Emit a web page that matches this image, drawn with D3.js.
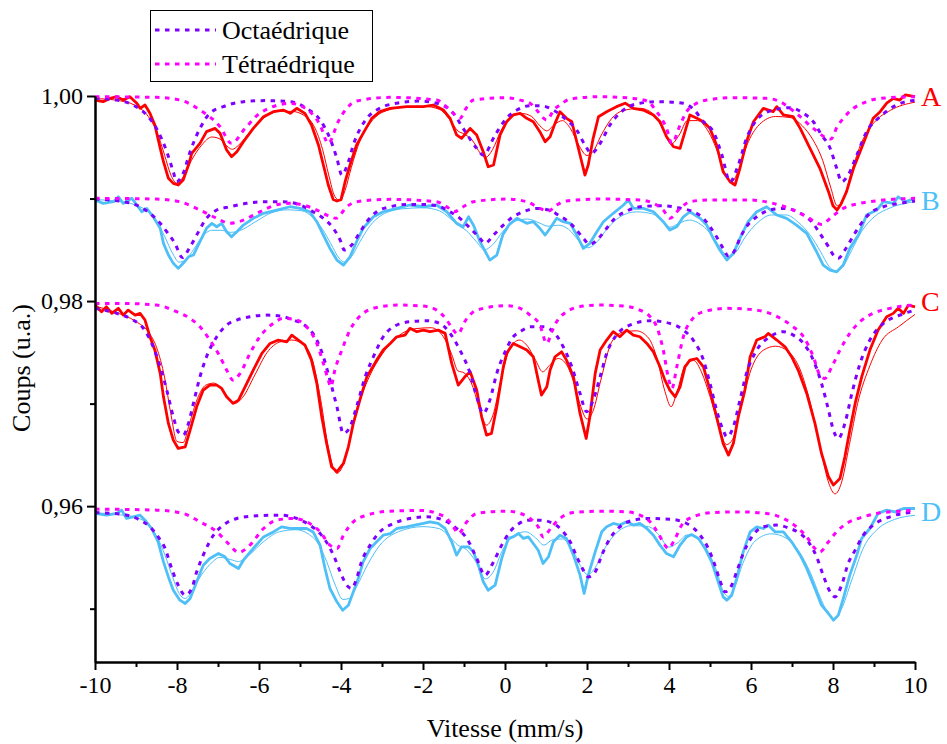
<!DOCTYPE html>
<html><head><meta charset="utf-8">
<script src="https://cdn.jsdelivr.net/npm/d3@7"></script>
<style>html,body{margin:0;padding:0;background:#fff;}svg{display:block;}</style>
</head><body>
<svg id="chart" width="947" height="744"></svg>
<script>
// ---------- data (velocity mm/s, relative counts) ----------
const xTicksMajor = [-10,-8,-6,-4,-2,0,2,4,6,8,10];
const xTicksMinor = [-9,-7,-5,-3,-1,1,3,5,7,9];
const yTicksMajor = [0.96,0.98,1.00];
const yTicksMinor = [0.95,0.97,0.99];
const spectrumLabels = ["A","B","C","D"];
const legendLabels = ["Octaédrique","Tétraédrique"];

const tetraA = [[-10,0.99993],[-8.5,0.99987],[-7.93,0.99961],[-7.44,0.99863],[-6.95,0.9970],[-6.67,0.99538],[-6.34,0.99684],[-5.98,0.99831],[-5.24,0.99928],[-4.76,0.99847],[-4.51,0.99717],[-4.31,0.99538],[-4.07,0.99749],[-3.86,0.9988],[-3.62,0.99951],[-2.8,0.99987],[-1.67,0.99961],[-1.34,0.99863],[-1.1,0.99782],[-0.95,0.9988],[-0.77,0.99961],[0.04,0.99983],[0.37,0.9996],[0.61,0.9993],[0.77,0.99863],[1.02,0.99766],[1.2,0.9987],[1.34,0.99912],[1.59,0.9997],[2.32,0.99993],[3.12,0.99977],[3.46,0.99951],[3.70,0.99847],[3.94,0.99684],[4.07,0.99538],[4.27,0.99717],[4.43,0.99847],[4.68,0.9993],[4.92,0.9996],[5.57,0.99983],[6.38,0.99977],[6.71,0.99945],[6.95,0.9988],[7.2,0.99798],[7.52,0.99684],[7.95,0.9958],[8.1,0.9970],[8.25,0.99782],[8.5,0.9988],[8.82,0.99945],[9.15,0.99977],[10,0.99993]];
const octaA = [[-10,0.99977],[-9.47,0.9996],[-9.07,0.99912],[-8.74,0.99815],[-8.5,0.99684],[-8.25,0.99457],[-8.09,0.99261],[-8.01,0.99164],[-7.85,0.99246],[-7.68,0.99457],[-7.44,0.99684],[-7.2,0.99831],[-6.87,0.99896],[-6.38,0.99945],[-5.81,0.99955],[-5.24,0.99945],[-4.84,0.9988],[-4.51,0.99766],[-4.27,0.99587],[-4.1,0.99392],[-3.98,0.99229],[-3.82,0.99359],[-3.7,0.99522],[-3.37,0.99782],[-3.13,0.99863],[-2.64,0.9993],[-2.07,0.99951],[-1.67,0.9993],[-1.26,0.99831],[-1.02,0.99684],[-0.69,0.9949],[-0.53,0.99424],[-0.24,0.9962],[0.04,0.99785],[0.29,0.99863],[0.61,0.99906],[0.85,0.99906],[1.18,0.99863],[1.5,0.99766],[1.75,0.99668],[1.95,0.99522],[2.11,0.99441],[2.32,0.99538],[2.56,0.99717],[2.89,0.99863],[3.29,0.9993],[3.78,0.99945],[4.35,0.9993],[4.6,0.9987],[4.84,0.99749],[5.08,0.99652],[5.29,0.99424],[5.49,0.99164],[5.69,0.99327],[5.89,0.99587],[6.14,0.99766],[6.54,0.99863],[6.95,0.99886],[7.28,0.99831],[7.52,0.99749],[7.72,0.9962],[7.93,0.9949],[8.09,0.99295],[8.21,0.99164],[8.37,0.99229],[8.58,0.99424],[8.82,0.99652],[9.15,0.99798],[9.55,0.99912],[10,0.9996]];
const dataA = [[-10,0.9996],[-9.8,0.99945],[-9.63,0.99977],[-9.47,0.99993],[-9.31,0.9996],[-9.15,0.99993],[-8.98,0.9993],[-8.9,0.9988],[-8.78,0.99912],[-8.66,0.99831],[-8.54,0.99717],[-8.41,0.9949],[-8.33,0.99359],[-8.21,0.99197],[-8.09,0.99148],[-7.97,0.99132],[-7.85,0.9918],[-7.72,0.99327],[-7.64,0.99441],[-7.44,0.99538],[-7.28,0.99652],[-7.07,0.99684],[-6.95,0.99636],[-6.79,0.99473],[-6.67,0.99408],[-6.54,0.99457],[-6.38,0.99554],[-6.14,0.99684],[-5.89,0.99798],[-5.65,0.99847],[-5.41,0.99863],[-5.24,0.99831],[-5.08,0.9988],[-4.88,0.99831],[-4.72,0.99717],[-4.55,0.99522],[-4.43,0.99327],[-4.31,0.99132],[-4.19,0.9899],[-4.1,0.98976],[-4.0,0.9899],[-3.9,0.99164],[-3.78,0.99327],[-3.62,0.99522],[-3.46,0.99636],[-3.25,0.99782],[-3.05,0.99847],[-2.8,0.9988],[-2.4,0.99896],[-1.99,0.99896],[-1.75,0.99912],[-1.5,0.99863],[-1.34,0.99782],[-1.18,0.9962],[-1.06,0.99587],[-0.85,0.99684],[-0.69,0.9962],[-0.53,0.99457],[-0.41,0.9931],[-0.28,0.99327],[-0.12,0.9962],[0.04,0.99749],[0.2,0.99815],[0.37,0.99831],[0.53,0.99782],[0.69,0.99749],[0.85,0.99652],[0.98,0.99554],[1.1,0.99603],[1.22,0.99733],[1.34,0.99847],[1.5,0.99782],[1.63,0.99749],[1.75,0.99554],[1.87,0.99359],[1.95,0.99229],[2.03,0.99327],[2.15,0.99587],[2.28,0.99798],[2.48,0.99847],[2.72,0.99896],[2.93,0.9993],[3.13,0.9988],[3.37,0.99863],[3.62,0.99815],[3.78,0.99749],[3.94,0.99603],[4.11,0.99505],[4.27,0.9949],[4.39,0.99652],[4.51,0.99815],[4.68,0.99782],[4.84,0.99749],[5.0,0.99684],[5.16,0.99522],[5.32,0.99261],[5.49,0.99164],[5.61,0.99132],[5.73,0.99295],[5.89,0.99554],[6.06,0.99749],[6.3,0.9988],[6.54,0.99847],[6.63,0.99896],[6.79,0.99815],[7.03,0.99798],[7.2,0.99684],[7.44,0.9949],[7.68,0.99295],[7.89,0.99067],[8.0,0.9893],[8.1,0.98888],[8.2,0.9895],[8.33,0.99067],[8.5,0.99295],[8.66,0.99457],[8.82,0.9962],[8.98,0.99782],[9.15,0.99847],[9.31,0.9993],[9.47,0.99977],[9.63,0.9996],[9.76,1.0001],[10,0.99993]];
const fitA = [[-10,0.99975],[-9.5,0.9996],[-9.0,0.99905],[-8.7,0.998],[-8.5,0.9966],[-8.3,0.9942],[-8.15,0.9923],[-8.0,0.9915],[-7.85,0.9921],[-7.65,0.9937],[-7.4,0.9952],[-7.15,0.9960],[-6.95,0.9958],[-6.75,0.9950],[-6.65,0.9948],[-6.5,0.9952],[-6.2,0.9966],[-5.9,0.9978],[-5.5,0.9985],[-5.2,0.9985],[-4.9,0.9981],[-4.65,0.9970],[-4.45,0.9948],[-4.3,0.9923],[-4.15,0.9902],[-4.02,0.9898],[-3.9,0.9908],[-3.75,0.9930],[-3.55,0.9955],[-3.3,0.9973],[-3.0,0.9984],[-2.5,0.9989],[-2.0,0.9990],[-1.6,0.9987],[-1.35,0.9977],[-1.15,0.9966],[-1.0,0.9963],[-0.8,0.9957],[-0.6,0.9944],[-0.48,0.9940],[-0.3,0.9948],[-0.1,0.9966],[0.15,0.9979],[0.4,0.9983],[0.65,0.9980],[0.85,0.9971],[1.02,0.9966],[1.2,0.9972],[1.4,0.9976],[1.6,0.9968],[1.8,0.9952],[2.0,0.9942],[2.15,0.9946],[2.35,0.9962],[2.6,0.9978],[2.9,0.9986],[3.3,0.9988],[3.6,0.9983],[3.85,0.9968],[4.05,0.9953],[4.25,0.9962],[4.45,0.9976],[4.7,0.9976],[4.95,0.9966],[5.2,0.9944],[5.4,0.9921],[5.52,0.9916],[5.7,0.9928],[5.9,0.9952],[6.2,0.9972],[6.6,0.9980],[6.95,0.9979],[7.25,0.9971],[7.5,0.9958],[7.75,0.9937],[7.95,0.9910],[8.1,0.9893],[8.25,0.9899],[8.45,0.9926],[8.7,0.9955],[9.0,0.9974],[9.4,0.9986],[10,0.9994]];

const tetraB = [[-10,0.99002],[-8.5,0.98995],[-7.93,0.98969],[-7.44,0.98888],[-7.03,0.98807],[-6.71,0.98758],[-6.38,0.9879],[-5.98,0.98871],[-5.5,0.98945],[-5.24,0.98953],[-4.92,0.98937],[-4.59,0.98888],[-4.35,0.98839],[-4.12,0.98807],[-3.86,0.9892],[-3.62,0.98969],[-2.8,0.98992],[-1.67,0.98969],[-1.42,0.9892],[-1.24,0.98871],[-1.02,0.9892],[-0.77,0.98969],[0.04,0.98995],[0.53,0.98969],[0.85,0.98904],[1.06,0.98878],[1.26,0.98937],[1.5,0.98976],[2.32,0.98995],[3.29,0.98985],[3.62,0.98953],[3.86,0.98888],[4.02,0.98807],[4.27,0.98904],[4.51,0.98969],[4.92,0.98985],[5.98,0.98985],[6.54,0.98953],[7.03,0.98888],[7.36,0.98822],[7.72,0.98748],[7.97,0.98822],[8.25,0.98904],[8.66,0.98953],[9.23,0.98985],[10,0.99002]];
const octaB = [[-10,0.98995],[-9.31,0.98969],[-8.9,0.9892],[-8.66,0.98856],[-8.41,0.98758],[-8.25,0.98676],[-8.05,0.98563],[-7.87,0.98425],[-7.68,0.9853],[-7.52,0.98644],[-7.28,0.98807],[-7.03,0.98888],[-6.71,0.9892],[-6.3,0.98953],[-5.89,0.98969],[-5.41,0.98969],[-5.0,0.98937],[-4.68,0.98871],[-4.43,0.98807],[-4.19,0.9871],[-4.02,0.98595],[-3.92,0.98498],[-3.74,0.98546],[-3.58,0.98644],[-3.37,0.98774],[-3.13,0.98871],[-2.8,0.9892],[-2.4,0.98943],[-1.99,0.98943],[-1.59,0.9892],[-1.34,0.98871],[-1.1,0.98807],[-0.85,0.9871],[-0.61,0.98612],[-0.49,0.98563],[-0.28,0.98644],[-0.04,0.98741],[0.2,0.98822],[0.45,0.98871],[0.77,0.98904],[1.1,0.98885],[1.3,0.98839],[1.5,0.9879],[1.71,0.9871],[1.91,0.98612],[2.07,0.98553],[2.28,0.98612],[2.48,0.9871],[2.68,0.98807],[2.97,0.98878],[3.29,0.9892],[3.78,0.9893],[4.31,0.98904],[4.59,0.98871],[4.84,0.98807],[5.0,0.98725],[5.16,0.98627],[5.32,0.98514],[5.45,0.98439],[5.61,0.98498],[5.73,0.98612],[5.89,0.98725],[6.14,0.98822],[6.46,0.98888],[6.79,0.98904],[7.03,0.98888],[7.28,0.98839],[7.48,0.98774],[7.68,0.9866],[7.89,0.9853],[8.01,0.98449],[8.13,0.98417],[8.29,0.98498],[8.46,0.98612],[8.66,0.98741],[8.9,0.98856],[9.23,0.9892],[9.63,0.98953],[10,0.98976]];
const dataB = [[-10,0.98985],[-9.8,0.98953],[-9.55,0.98969],[-9.43,0.99017],[-9.31,0.98953],[-9.1,0.99002],[-8.98,0.98937],[-8.86,0.98871],[-8.74,0.98904],[-8.58,0.98822],[-8.41,0.9871],[-8.33,0.98563],[-8.21,0.98449],[-8.09,0.98368],[-7.97,0.98319],[-7.85,0.98368],[-7.72,0.98432],[-7.6,0.98449],[-7.44,0.98579],[-7.28,0.9871],[-7.15,0.98758],[-7.03,0.98725],[-6.91,0.98758],[-6.79,0.98676],[-6.67,0.98627],[-6.54,0.98676],[-6.38,0.98741],[-6.14,0.98807],[-5.89,0.98856],[-5.57,0.98888],[-5.24,0.9892],[-5.0,0.98904],[-4.76,0.98871],[-4.59,0.98774],[-4.43,0.98644],[-4.27,0.98514],[-4.1,0.984],[-3.94,0.98351],[-3.78,0.98432],[-3.62,0.98579],[-3.46,0.9871],[-3.21,0.98822],[-2.97,0.98871],[-2.64,0.98904],[-2.32,0.98937],[-1.99,0.9892],[-1.67,0.98937],[-1.42,0.98871],[-1.18,0.98758],[-1.02,0.98725],[-0.89,0.98822],[-0.77,0.98741],[-0.61,0.98579],[-0.37,0.984],[-0.2,0.98449],[-0.05,0.9865],[0.1,0.98745],[0.29,0.98807],[0.53,0.98758],[0.69,0.98774],[0.85,0.9871],[0.98,0.98644],[1.1,0.9871],[1.26,0.98807],[1.42,0.98774],[1.59,0.98758],[1.75,0.98644],[1.91,0.98514],[2.07,0.98563],[2.24,0.98676],[2.4,0.98774],[2.64,0.98856],[2.89,0.98937],[3.01,0.98985],[3.13,0.98904],[3.37,0.98904],[3.62,0.98871],[3.86,0.98774],[4.02,0.98693],[4.19,0.98725],[4.35,0.98822],[4.51,0.98871],[4.76,0.98807],[4.92,0.98741],[5.08,0.98612],[5.24,0.98498],[5.41,0.984],[5.57,0.98465],[5.73,0.98612],[5.93,0.98774],[6.14,0.98871],[6.38,0.9892],[6.63,0.98839],[6.87,0.98807],[7.11,0.98741],[7.36,0.9866],[7.6,0.98481],[7.76,0.98351],[7.93,0.98302],[8.09,0.98285],[8.25,0.98351],[8.41,0.98514],[8.62,0.98644],[8.82,0.98839],[9.07,0.98888],[9.23,0.98969],[9.47,0.98953],[9.59,0.99017],[9.76,0.98969],[10,0.99002]];
const fitB = [[-10,0.9899],[-9.5,0.98975],[-9.0,0.98935],[-8.7,0.9887],[-8.5,0.9878],[-8.3,0.9863],[-8.1,0.9846],[-7.95,0.9838],[-7.8,0.9840],[-7.6,0.9850],[-7.4,0.9862],[-7.15,0.9869],[-6.9,0.9869],[-6.7,0.9867],[-6.45,0.9869],[-6.1,0.9877],[-5.7,0.9886],[-5.3,0.9889],[-4.95,0.9888],[-4.7,0.9882],[-4.45,0.9870],[-4.25,0.9856],[-4.05,0.9842],[-3.92,0.9838],[-3.75,0.9843],[-3.55,0.9857],[-3.3,0.9873],[-3.0,0.9884],[-2.5,0.9890],[-2.0,0.9891],[-1.6,0.9888],[-1.35,0.9881],[-1.15,0.9874],[-0.95,0.9869],[-0.7,0.9858],[-0.5,0.9850],[-0.3,0.9855],[-0.05,0.9868],[0.25,0.9878],[0.55,0.9880],[0.85,0.9876],[1.05,0.9873],[1.3,0.9874],[1.55,0.9870],[1.8,0.9859],[2.02,0.9852],[2.25,0.9858],[2.5,0.9871],[2.8,0.9882],[3.2,0.9887],[3.6,0.9885],[3.85,0.9878],[4.02,0.9872],[4.25,0.9876],[4.5,0.9879],[4.8,0.9874],[5.05,0.9864],[5.3,0.9849],[5.45,0.9843],[5.62,0.9847],[5.85,0.9862],[6.15,0.9876],[6.5,0.9884],[6.85,0.9884],[7.15,0.9877],[7.45,0.9864],[7.7,0.9848],[7.9,0.9834],[8.08,0.9829],[8.25,0.9834],[8.45,0.9849],[8.7,0.9868],[9.0,0.9882],[9.4,0.9891],[10,0.9897]];

const tetraC = [[-10,0.97977],[-9.31,0.97977],[-8.5,0.97961],[-8.01,0.97896],[-7.68,0.97831],[-7.44,0.97749],[-7.2,0.9762],[-6.95,0.97457],[-6.79,0.97327],[-6.63,0.97229],[-6.46,0.97295],[-6.22,0.9749],[-5.98,0.97652],[-5.65,0.97782],[-5.41,0.97831],[-5.08,0.97815],[-4.84,0.97749],[-4.59,0.97587],[-4.43,0.97392],[-4.31,0.97229],[-4.25,0.97164],[-4.15,0.97327],[-3.98,0.97522],[-3.78,0.97717],[-3.46,0.9788],[-3.05,0.97944],[-2.56,0.97961],[-1.99,0.97951],[-1.67,0.97912],[-1.42,0.97815],[-1.26,0.97717],[-1.15,0.97678],[-0.98,0.978],[-0.69,0.97912],[0.04,0.97955],[0.37,0.97929],[0.61,0.97863],[0.85,0.97766],[1.02,0.97587],[1.14,0.97701],[1.26,0.97799],[1.5,0.97896],[1.91,0.97951],[2.32,0.97961],[2.89,0.97951],[3.29,0.97912],[3.54,0.97847],[3.7,0.97749],[3.86,0.97522],[3.98,0.97261],[4.07,0.97149],[4.19,0.97359],[4.35,0.97652],[4.55,0.97815],[4.84,0.97896],[5.41,0.97929],[5.98,0.97919],[6.46,0.9788],[6.79,0.97815],[7.03,0.97749],[7.28,0.97652],[7.52,0.97457],[7.68,0.97278],[7.8,0.97246],[7.97,0.97359],[8.17,0.97522],[8.41,0.97685],[8.66,0.97799],[8.98,0.9788],[9.39,0.97929],[10,0.97961]];
const octaC = [[-10,0.97929],[-9.47,0.9788],[-9.07,0.97815],[-8.82,0.97734],[-8.58,0.97554],[-8.41,0.97359],[-8.25,0.97132],[-8.09,0.96871],[-7.97,0.96725],[-7.85,0.96693],[-7.72,0.96807],[-7.6,0.97002],[-7.44,0.97261],[-7.28,0.97457],[-7.03,0.97652],[-6.79,0.97766],[-6.54,0.97815],[-6.22,0.97847],[-5.81,0.97863],[-5.49,0.97854],[-5.16,0.97815],[-4.84,0.97749],[-4.59,0.9762],[-4.43,0.97457],[-4.27,0.97229],[-4.1,0.96969],[-3.94,0.96709],[-3.78,0.96774],[-3.62,0.96969],[-3.41,0.97261],[-3.21,0.97457],[-2.97,0.97652],[-2.72,0.97749],[-2.32,0.97799],[-1.91,0.97808],[-1.59,0.97782],[-1.34,0.97685],[-1.1,0.97522],[-0.85,0.97295],[-0.69,0.97066],[-0.53,0.96904],[-0.37,0.97034],[-0.2,0.97295],[0.02,0.9752],[0.2,0.97652],[0.37,0.97701],[0.61,0.97749],[0.93,0.97749],[1.18,0.97701],[1.42,0.97554],[1.63,0.97359],[1.83,0.97099],[1.99,0.9692],[2.15,0.97034],[2.32,0.97261],[2.48,0.9749],[2.72,0.97668],[3.05,0.97766],[3.54,0.97808],[4.02,0.97782],[4.35,0.97717],[4.59,0.9762],[4.84,0.97424],[5.0,0.97197],[5.16,0.96937],[5.32,0.96741],[5.41,0.96676],[5.57,0.96774],[5.73,0.97034],[5.89,0.97295],[6.14,0.97522],[6.46,0.97652],[6.79,0.97701],[7.03,0.97668],[7.28,0.97587],[7.52,0.97424],[7.72,0.97197],[7.89,0.96937],[8.01,0.96741],[8.13,0.9666],[8.29,0.96807],[8.46,0.97099],[8.66,0.97392],[8.9,0.9762],[9.23,0.97782],[9.63,0.97863],[10,0.97912]];
const dataC = [[-10,0.97961],[-9.84,0.97896],[-9.72,0.97944],[-9.59,0.9788],[-9.43,0.97929],[-9.31,0.97863],[-9.19,0.97912],[-9.02,0.97863],[-8.9,0.9788],[-8.78,0.97815],[-8.66,0.97652],[-8.54,0.97522],[-8.41,0.97295],[-8.33,0.97066],[-8.21,0.96807],[-8.09,0.96644],[-7.97,0.96563],[-7.8,0.96579],[-7.68,0.96741],[-7.52,0.96969],[-7.36,0.97132],[-7.2,0.9718],[-7.03,0.9718],[-6.91,0.97148],[-6.79,0.97066],[-6.63,0.97002],[-6.5,0.97034],[-6.34,0.97164],[-6.14,0.97327],[-5.93,0.9749],[-5.73,0.97587],[-5.53,0.9762],[-5.32,0.97603],[-5.2,0.97668],[-5.04,0.9762],[-4.88,0.97571],[-4.72,0.97424],[-4.59,0.97197],[-4.47,0.96871],[-4.35,0.96612],[-4.23,0.96384],[-4.1,0.96335],[-3.94,0.96416],[-3.82,0.96579],[-3.7,0.96807],[-3.54,0.97034],[-3.37,0.97261],[-3.13,0.97424],[-2.97,0.97522],[-2.8,0.97587],[-2.64,0.97652],[-2.44,0.97668],[-2.32,0.97734],[-2.15,0.97701],[-1.99,0.97717],[-1.83,0.97701],[-1.63,0.97717],[-1.46,0.97685],[-1.3,0.97392],[-1.14,0.9718],[-0.98,0.97261],[-0.85,0.9731],[-0.69,0.97132],[-0.57,0.96871],[-0.45,0.96693],[-0.33,0.96709],[-0.2,0.96969],[-0.04,0.97359],[0.04,0.9749],[0.2,0.97587],[0.37,0.97554],[0.53,0.97522],[0.69,0.97457],[0.81,0.97229],[0.89,0.97083],[1.02,0.97164],[1.1,0.97327],[1.22,0.97457],[1.38,0.97505],[1.5,0.97424],[1.67,0.97261],[1.83,0.96904],[1.98,0.9666],[2.07,0.96871],[2.2,0.97295],[2.32,0.97522],[2.48,0.9762],[2.64,0.97701],[2.8,0.97652],[2.97,0.97717],[3.13,0.97668],[3.29,0.97652],[3.46,0.97587],[3.62,0.97505],[3.78,0.97359],[3.9,0.97229],[4.02,0.97132],[4.15,0.97066],[4.27,0.97164],[4.39,0.97359],[4.51,0.97424],[4.68,0.9744],[4.84,0.97359],[5.0,0.97132],[5.16,0.96871],[5.32,0.96612],[5.45,0.96498],[5.57,0.96612],[5.69,0.96871],[5.85,0.97132],[5.98,0.97457],[6.14,0.9762],[6.34,0.97652],[6.42,0.97685],[6.63,0.9762],[6.83,0.97554],[6.99,0.97457],[7.15,0.97327],[7.36,0.97099],[7.56,0.96807],[7.72,0.96514],[7.89,0.96286],[8.01,0.96205],[8.17,0.9627],[8.29,0.96481],[8.41,0.96741],[8.54,0.97002],[8.7,0.97261],[8.9,0.97522],[9.1,0.97717],[9.31,0.97847],[9.47,0.9788],[9.59,0.97929],[9.72,0.9788],[9.84,0.97961],[10,0.97944]];
const fitC = [[-10,0.97951],[-9.5,0.9789],[-9.0,0.978],[-8.7,0.977],[-8.5,0.9755],[-8.3,0.9725],[-8.15,0.969],[-8.0,0.9663],[-7.85,0.9662],[-7.7,0.968],[-7.5,0.9705],[-7.3,0.9718],[-7.1,0.972],[-6.9,0.9714],[-6.6,0.970],[-6.4,0.9706],[-6.1,0.9728],[-5.8,0.975],[-5.5,0.976],[-5.2,0.9762],[-4.9,0.9757],[-4.7,0.9743],[-4.5,0.9705],[-4.3,0.9655],[-4.1,0.9632],[-3.95,0.964],[-3.8,0.9662],[-3.6,0.9695],[-3.3,0.9727],[-3.0,0.9748],[-2.6,0.9766],[-2.2,0.9773],[-1.8,0.9774],[-1.5,0.9765],[-1.3,0.9748],[-1.15,0.9732],[-1.0,0.973],[-0.8,0.9718],[-0.6,0.9692],[-0.45,0.9679],[-0.3,0.9688],[-0.1,0.9723],[0.1,0.9752],[0.35,0.9762],[0.55,0.9756],[0.75,0.9742],[0.92,0.9731],[1.1,0.9738],[1.3,0.9744],[1.5,0.9738],[1.7,0.9718],[1.85,0.9697],[2.0,0.9685],[2.15,0.9693],[2.35,0.9725],[2.6,0.976],[2.9,0.977],[3.2,0.9771],[3.5,0.9764],[3.7,0.9745],[3.9,0.9712],[4.05,0.9697],[4.2,0.9712],[4.4,0.9738],[4.6,0.9742],[4.8,0.973],[5.0,0.9707],[5.2,0.968],[5.4,0.966],[5.55,0.9665],[5.75,0.9695],[6.0,0.9733],[6.3,0.9752],[6.6,0.9756],[6.9,0.9751],[7.2,0.9733],[7.45,0.97],[7.7,0.9655],[7.9,0.9622],[8.05,0.9612],[8.2,0.9622],[8.4,0.966],[8.6,0.97],[8.9,0.9737],[9.2,0.9762],[9.6,0.9775],[10,0.9787]];

const tetraD = [[-10,0.95971],[-8.5,0.95961],[-7.85,0.95929],[-7.44,0.95847],[-7.03,0.9575],[-6.71,0.9562],[-6.5,0.95548],[-6.22,0.9562],[-5.89,0.95782],[-5.57,0.95863],[-5.16,0.9588],[-4.84,0.95847],[-4.51,0.9575],[-4.27,0.9562],[-4.1,0.95587],[-3.94,0.95717],[-3.7,0.95847],[-3.37,0.95912],[-2.8,0.95951],[-1.99,0.95958],[-1.67,0.95929],[-1.42,0.9588],[-1.26,0.95798],[-1.14,0.95733],[-0.93,0.95847],[-0.69,0.95929],[0.04,0.95951],[0.37,0.95929],[0.61,0.9588],[0.81,0.95798],[0.93,0.957],[1.14,0.95798],[1.34,0.9588],[1.67,0.95938],[2.32,0.95951],[2.97,0.95944],[3.29,0.95912],[3.54,0.95847],[3.74,0.95733],[3.9,0.9562],[3.98,0.95587],[4.15,0.95685],[4.31,0.95815],[4.59,0.95896],[5.08,0.95938],[5.73,0.95944],[6.38,0.95929],[6.79,0.9588],[7.11,0.95798],[7.36,0.957],[7.56,0.95587],[7.68,0.95554],[7.89,0.95652],[8.09,0.9575],[8.33,0.95831],[8.66,0.95886],[9.07,0.95929],[9.63,0.95951],[10,0.95961]];
const octaD = [[-10,0.95938],[-9.31,0.95919],[-8.9,0.95863],[-8.66,0.95798],[-8.46,0.957],[-8.29,0.95587],[-8.13,0.95392],[-7.97,0.95229],[-7.8,0.95132],[-7.64,0.95197],[-7.52,0.95359],[-7.36,0.95522],[-7.11,0.95717],[-6.87,0.95815],[-6.54,0.9588],[-6.06,0.95906],[-5.49,0.95912],[-5.08,0.9588],[-4.76,0.95815],[-4.51,0.95733],[-4.31,0.9562],[-4.15,0.9549],[-4.02,0.95359],[-3.86,0.95229],[-3.74,0.95197],[-3.62,0.95294],[-3.5,0.95457],[-3.29,0.9562],[-3.05,0.9575],[-2.72,0.95831],[-2.32,0.9588],[-1.91,0.95896],[-1.5,0.95863],[-1.18,0.95782],[-0.93,0.95685],[-0.69,0.9549],[-0.49,0.95327],[-0.28,0.95457],[-0.08,0.9562],[0.12,0.9575],[0.29,0.95815],[0.57,0.95863],[0.85,0.95863],[1.18,0.95831],[1.42,0.9575],[1.59,0.95652],[1.75,0.95506],[1.91,0.95376],[2.03,0.9531],[2.2,0.95359],[2.36,0.95522],[2.56,0.95685],[2.8,0.95798],[3.13,0.95863],[3.54,0.9588],[4.02,0.95873],[4.43,0.95831],[4.76,0.95717],[4.96,0.95587],[5.12,0.95424],[5.24,0.95278],[5.37,0.95164],[5.53,0.95229],[5.65,0.95359],[5.81,0.95538],[6.02,0.957],[6.3,0.95798],[6.63,0.95815],[6.95,0.95782],[7.2,0.95733],[7.4,0.95652],[7.6,0.95506],[7.76,0.95327],[7.93,0.95164],[8.05,0.95115],[8.21,0.95229],[8.37,0.95441],[8.54,0.95571],[8.74,0.95717],[8.98,0.95815],[9.39,0.95896],[10,0.95944]];
const dataD = [[-10,0.95929],[-9.72,0.95912],[-9.47,0.95929],[-9.35,0.95961],[-9.23,0.9588],[-9.07,0.95896],[-8.9,0.95912],[-8.78,0.95863],[-8.62,0.95782],[-8.46,0.95652],[-8.33,0.95457],[-8.21,0.9531],[-8.09,0.9518],[-7.93,0.95083],[-7.8,0.9505],[-7.68,0.95099],[-7.52,0.95262],[-7.36,0.95424],[-7.2,0.9549],[-6.99,0.95538],[-6.83,0.95506],[-6.71,0.95441],[-6.5,0.95392],[-6.38,0.95473],[-6.14,0.95587],[-5.89,0.957],[-5.65,0.95749],[-5.45,0.95798],[-5.24,0.95782],[-5.04,0.95782],[-4.84,0.95782],[-4.68,0.95749],[-4.51,0.9562],[-4.39,0.95392],[-4.27,0.95197],[-4.1,0.95067],[-3.96,0.94985],[-3.82,0.95034],[-3.7,0.95164],[-3.58,0.95294],[-3.46,0.95457],[-3.29,0.95587],[-3.13,0.95652],[-2.97,0.95717],[-2.8,0.95733],[-2.64,0.95782],[-2.4,0.95798],[-2.2,0.95815],[-1.99,0.95831],[-1.83,0.95847],[-1.63,0.95831],[-1.46,0.95782],[-1.3,0.95652],[-1.18,0.95522],[-1.06,0.95603],[-0.89,0.95603],[-0.77,0.95554],[-0.65,0.95424],[-0.53,0.95262],[-0.41,0.9518],[-0.24,0.95229],[-0.08,0.9549],[0.08,0.95685],[0.2,0.957],[0.33,0.95733],[0.45,0.95685],[0.57,0.957],[0.69,0.95636],[0.81,0.9557],[0.93,0.95441],[1.06,0.95506],[1.18,0.95652],[1.34,0.95717],[1.5,0.95685],[1.67,0.95522],[1.83,0.95327],[1.93,0.95148],[2.03,0.95327],[2.2,0.95554],[2.36,0.9575],[2.48,0.95798],[2.64,0.95831],[2.8,0.95815],[2.97,0.95847],[3.13,0.95815],[3.29,0.95831],[3.46,0.95782],[3.62,0.95717],[3.78,0.9562],[3.94,0.95538],[4.11,0.95506],[4.27,0.9562],[4.43,0.957],[4.55,0.95723],[4.72,0.95685],[4.88,0.95587],[5.04,0.95457],[5.2,0.95262],[5.32,0.95115],[5.41,0.95083],[5.53,0.95132],[5.65,0.95294],[5.81,0.95554],[5.98,0.9575],[6.14,0.95798],[6.3,0.95782],[6.42,0.95815],[6.59,0.95749],[6.79,0.95749],[6.99,0.95652],[7.2,0.95522],[7.36,0.95392],[7.56,0.95197],[7.72,0.95034],[7.89,0.94953],[8.01,0.94888],[8.13,0.94937],[8.25,0.95099],[8.41,0.95327],[8.58,0.95522],[8.7,0.95685],[8.9,0.95782],[9.1,0.95929],[9.31,0.95961],[9.51,0.95944],[9.72,0.95977],[10,0.95977]];
const fitD = [[-10,0.95935],[-9.5,0.9592],[-9.0,0.9589],[-8.7,0.9582],[-8.5,0.9571],[-8.3,0.9553],[-8.1,0.953],[-7.95,0.9515],[-7.8,0.951],[-7.65,0.9516],[-7.45,0.953],[-7.2,0.9543],[-6.95,0.955],[-6.7,0.9548],[-6.5,0.9546],[-6.25,0.9552],[-5.9,0.9565],[-5.5,0.9575],[-5.1,0.9577],[-4.8,0.9573],[-4.55,0.9563],[-4.35,0.9546],[-4.15,0.9524],[-3.95,0.9509],[-3.8,0.951],[-3.6,0.9523],[-3.35,0.9543],[-3.05,0.9562],[-2.6,0.9575],[-2.0,0.958],[-1.6,0.9578],[-1.35,0.957],[-1.15,0.9562],[-0.95,0.9558],[-0.7,0.9545],[-0.48,0.9529],[-0.3,0.9535],[-0.05,0.9558],[0.25,0.9572],[0.5,0.9575],[0.75,0.9569],[0.95,0.9562],[1.15,0.9567],[1.4,0.9568],[1.65,0.9557],[1.85,0.9541],[2.02,0.9533],[2.2,0.954],[2.45,0.956],[2.75,0.9575],[3.1,0.9581],[3.5,0.958],[3.75,0.9572],[4.0,0.956],[4.2,0.9564],[4.45,0.9572],[4.7,0.9568],[4.95,0.9556],[5.15,0.9538],[5.35,0.9515],[5.45,0.9512],[5.6,0.9521],[5.8,0.9544],[6.1,0.9566],[6.5,0.9573],[6.85,0.9569],[7.15,0.9557],[7.45,0.9535],[7.7,0.951],[7.9,0.9494],[8.03,0.949],[8.2,0.9499],[8.45,0.9527],[8.75,0.956],[9.1,0.9578],[9.5,0.9587],[10,0.9591]];

const labelLevels = [1.0, 0.98985, 0.98, 0.9595];

// ---------- drawing ----------
const RED = "#ff0000", BLUE = "#4fbff7", OCTA = "#8000ff", TETRA = "#ff00ff";
const FONT = "Liberation Serif";
const svg = d3.select("#chart");
const x = d3.scaleLinear().domain([-10, 10]).range([95, 915]);
const y = d3.scaleLinear().domain([0.9448, 1.0]).range([662, 96]);

const lineLin = d3.line().x(d => x(d[0])).y(d => y(d[1]));
const lineSmooth = d3.line().x(d => x(d[0])).y(d => y(d[1])).curve(d3.curveMonotoneX);

const spectra = [
  {data: dataA, fit: fitA, octa: octaA, tetra: tetraA, color: RED},
  {data: dataB, fit: fitB, octa: octaB, tetra: tetraB, color: BLUE},
  {data: dataC, fit: fitC, octa: octaC, tetra: tetraC, color: RED},
  {data: dataD, fit: fitD, octa: octaD, tetra: tetraD, color: BLUE}
];

const plot = svg.append("g");
spectra.forEach(s => {
  plot.append("path").attr("d", lineLin(s.data)).attr("fill", "none")
    .attr("stroke", s.color).attr("stroke-width", 2.8).attr("stroke-linejoin", "round");
  plot.append("path").attr("d", lineSmooth(s.fit)).attr("fill", "none")
    .attr("stroke", s.color).attr("stroke-width", 1);
});
spectra.forEach(s => {
  plot.append("path").attr("d", lineSmooth(s.octa)).attr("fill", "none")
    .attr("stroke", OCTA).attr("stroke-width", 3).attr("stroke-dasharray", "4.5,5.5");
  plot.append("path").attr("d", lineSmooth(s.tetra)).attr("fill", "none")
    .attr("stroke", TETRA).attr("stroke-width", 3).attr("stroke-dasharray", "4.5,5.5");
});

// spectrum letters
spectrumLabels.forEach((t, i) => {
  svg.append("text").attr("x", 921).attr("y", y(labelLevels[i]) + 10)
    .style("font-family", FONT).attr("font-size", 28).attr("fill", spectra[i].color).text(t);
});

// axes
const fmtY = v => d3.format(".2f")(v).replace(".", ",");
const fmtX = v => String(v);
function styleAxis(g) {
  g.selectAll("path.domain").attr("stroke", "#000").attr("stroke-width", 2);
  g.selectAll(".tick line").attr("stroke", "#000").attr("stroke-width", 2);
  g.selectAll(".tick text").attr("fill", "#000").style("font-family", FONT).attr("font-size", 24);
}
const xMinor = svg.append("g").attr("transform", "translate(0,662)")
  .call(d3.axisBottom(x).tickValues(xTicksMinor).tickSize(5).tickSizeOuter(0).tickFormat(""));
styleAxis(xMinor);
const xMajor = svg.append("g").attr("transform", "translate(0,662)")
  .call(d3.axisBottom(x).tickValues(xTicksMajor).tickSize(8).tickSizeOuter(0).tickPadding(6).tickFormat(fmtX));
styleAxis(xMajor);
const yMinor = svg.append("g").attr("transform", "translate(95,0)")
  .call(d3.axisLeft(y).tickValues(yTicksMinor).tickSize(5).tickSizeOuter(0).tickFormat(""));
styleAxis(yMinor);
const yMajor = svg.append("g").attr("transform", "translate(95,0)")
  .call(d3.axisLeft(y).tickValues(yTicksMajor).tickSize(8).tickSizeOuter(0).tickPadding(4).tickFormat(fmtY));
styleAxis(yMajor);

svg.append("text").attr("x", 505).attr("y", 737).attr("text-anchor", "middle")
  .style("font-family", FONT).attr("font-size", 26).text("Vitesse (mm/s)");
svg.append("text").attr("transform", "translate(30,368) rotate(-90)").attr("text-anchor", "middle")
  .style("font-family", FONT).attr("font-size", 26).text("Coups (u.a.)");

// legend
const lg = svg.append("g");
lg.append("rect").attr("x", 150.5).attr("y", 10.5).attr("width", 222).attr("height", 71)
  .attr("fill", "#fff").attr("stroke", "#000").attr("stroke-width", 1);
[[OCTA, 30], [TETRA, 64]].forEach((e, i) => {
  lg.append("line").attr("x1", 155).attr("x2", 216).attr("y1", e[1]).attr("y2", e[1])
    .attr("stroke", e[0]).attr("stroke-width", 3).attr("stroke-dasharray", "4.5,5.5");
  lg.append("text").attr("x", 222).attr("y", e[1] + 9).style("font-family", FONT).attr("font-size", 26).text(legendLabels[i]);
});
</script>
</body></html>
